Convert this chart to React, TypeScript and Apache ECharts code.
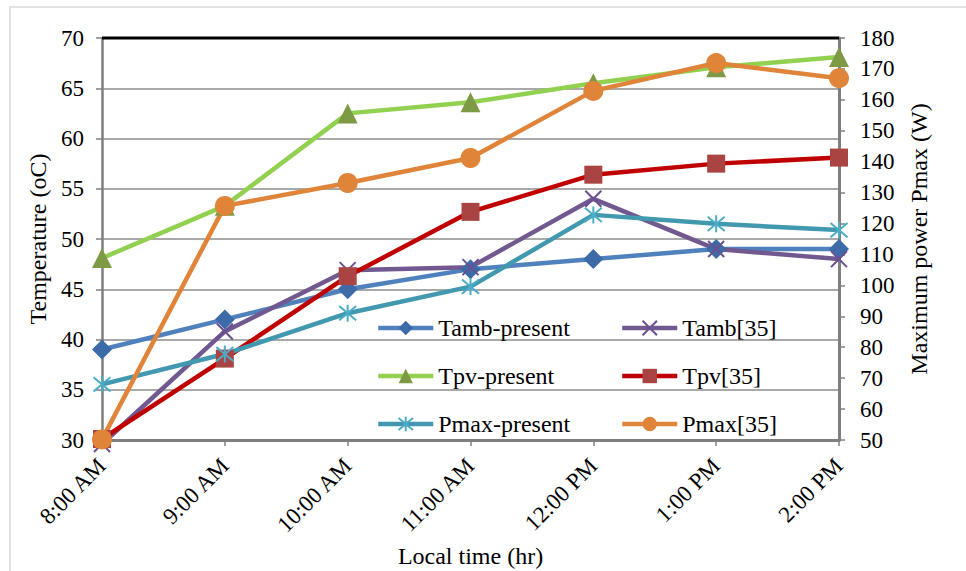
import React, { useEffect, useRef } from "react";
import * as echarts from "echarts";

const categories = ["8:00 AM", "9:00 AM", "10:00 AM", "11:00 AM", "12:00 PM", "1:00 PM", "2:00 PM"];
const tambPresent = [39, 42, 45, 47, 48, 49, 49];
const tamb35 = [29.6, 40.8, 46.9, 47.2, 54, 49, 48];
const tpvPresent = [48.1, 53.3, 62.5, 63.6, 65.5, 67.1, 68.1];
const tpv35 = [30.1, 38.1, 46.3, 52.7, 56.4, 57.5, 58.1];
const pmaxPresent = [68, 77.8, 91, 99.6, 122.8, 119.9, 117.9];
const pmax35 = [50.2, 125.7, 133.1, 141.2, 162.9, 171.9, 167];

const FONT = "Liberation Serif";

const xPath = "path://M0,0L10,10M10,0L0,10";
const starPath = "path://M5,0L5,10M0.8,0.8L9.2,9.2M9.2,0.8L0.8,9.2";

export default function App() {
  const ref = useRef<HTMLDivElement>(null);
  useEffect(() => {
    if (!ref.current) return;
    const chart = echarts.init(ref.current, null, { renderer: "svg" });
    const mk = (
      name: string,
      data: number[],
      lineColor: string,
      markColor: string,
      symbol: string,
      symbolSize: number,
      yAxisIndex: number,
      stroked = false
    ) => ({
      name,
      type: "line",
      data,
      yAxisIndex,
      symbol,
      symbolSize,
      showSymbol: true,
      clip: false,
      lineStyle: { color: lineColor, width: 4.5 },
      itemStyle: stroked
        ? { color: markColor, borderColor: markColor, borderWidth: 2 }
        : { color: markColor, borderWidth: 0 },
      emphasis: { disabled: true },
    });
    const legendCommon = {
      orient: "vertical",
      top: 311,
      itemWidth: 55,
      itemHeight: 18,
      itemGap: 24,
      selectedMode: false,
      lineStyle: { width: 4.5 },
      textStyle: { fontFamily: FONT, fontSize: 24, color: "#000", lineHeight: 24 },
    };
    const option = {
      animation: false,
      backgroundColor: "#ffffff",
      textStyle: { fontFamily: FONT, color: "#000" },
      grid: { left: 102, right: 127, top: 38, bottom: 131, outerBoundsMode: "none", containLabel: false },
      graphic: [
        {
          type: "rect",
          shape: { x: 10, y: 7, width: 1000, height: 700 },
          style: { fill: "none", stroke: "#d9d9d9", lineWidth: 1.5 },
          z: -10,
        },
        {
          type: "line",
          shape: { x1: 102, y1: 38, x2: 839, y2: 38 },
          style: { stroke: "#000", lineWidth: 3 },
          z: 100,
        },
      ],
      legend: [
        { ...legendCommon, left: 371, data: ["Tamb-present", "Tpv-present", "Pmax-present"] },
        { ...legendCommon, left: 615, data: ["Tamb[35]", "Tpv[35]", "Pmax[35]"] },
      ],
      xAxis: {
        type: "category",
        data: categories,
        boundaryGap: false,
        name: "Local time (hr)",
        nameLocation: "middle",
        nameGap: 104,
        nameMoveOverlap: false,
        nameTextStyle: { fontFamily: FONT, fontSize: 24, color: "#000" },
        axisLine: { lineStyle: { color: "#7f7f7f", width: 3 } },
        axisTick: { show: true, length: 6, lineStyle: { color: "#7f7f7f", width: 1.5 } },
        axisLabel: { rotate: 45, fontFamily: FONT, fontSize: 23, color: "#000", margin: 22 },
        splitLine: { show: false },
      },
      yAxis: [
        {
          type: "value",
          min: 30,
          max: 70,
          interval: 5,
          name: "Temperature (oC)",
          nameLocation: "middle",
          nameGap: 52,
          nameMoveOverlap: false,
          nameTextStyle: { fontFamily: FONT, fontSize: 24, color: "#000" },
          axisLine: { show: true, lineStyle: { color: "#7f7f7f", width: 2.5 } },
          axisTick: { show: true, length: 6, lineStyle: { color: "#7f7f7f", width: 1.5 } },
          axisLabel: { fontFamily: FONT, fontSize: 23, color: "#000", margin: 18 },
          splitLine: { show: true, lineStyle: { color: "#8c8c8c", width: 1.5 } },
        },
        {
          type: "value",
          min: 50,
          max: 180,
          interval: 10,
          name: "Maximum power Pmax (W)",
          nameLocation: "middle",
          nameGap: 68,
          nameMoveOverlap: false,
          nameTextStyle: { fontFamily: FONT, fontSize: 24, color: "#000" },
          axisLine: { show: true, lineStyle: { color: "#7f7f7f", width: 3 } },
          axisTick: { show: true, length: 6, lineStyle: { color: "#7f7f7f", width: 1.5 } },
          axisLabel: { fontFamily: FONT, fontSize: 23, color: "#000", margin: 21 },
          splitLine: { show: false },
        },
      ],
      series: [
        mk("Tamb-present", tambPresent, "#4f81bd", "#3d6ba8", "diamond", 20, 0),
        mk("Tamb[35]", tamb35, "#71588f", "#6b4f93", xPath, 16, 0, true),
        mk("Tpv-present", tpvPresent, "#92d050", "#7f9a45", "triangle", 20, 0),
        mk("Tpv[35]", tpv35, "#c00000", "#a94442", "rect", 18, 0),
        mk("Pmax-present", pmaxPresent, "#4198af", "#4bacc6", starPath, 17, 1, true),
        mk("Pmax[35]", pmax35, "#e0843a", "#e0843a", "circle", 20, 1),
      ],
    };
    chart.setOption(option as any);
    return () => chart.dispose();
  }, []);
  return (
    <div
      ref={ref}
      style={{ position: "fixed", left: 0, top: 0, width: 966, height: 571, background: "#fff" }}
    />
  );
}
